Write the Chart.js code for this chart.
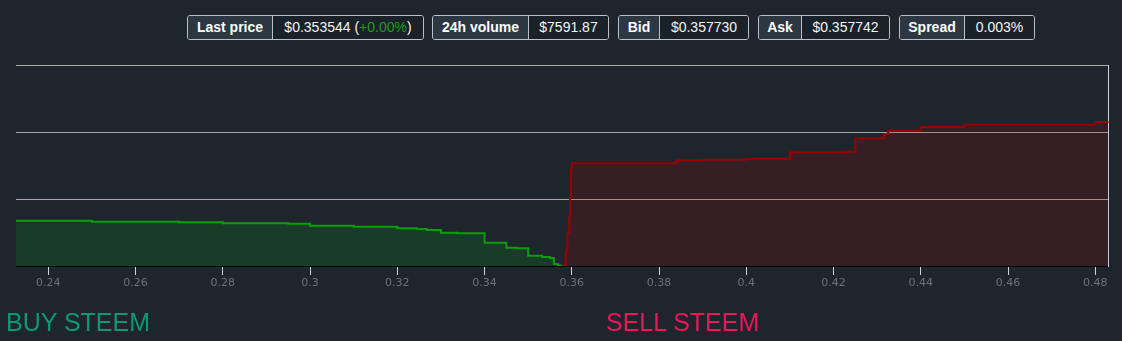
<!DOCTYPE html>
<html>
<head>
<meta charset="utf-8">
<script src="https://cdn.jsdelivr.net/npm/chart.js@4/dist/chart.umd.min.js"></script>
<style>
  html, body { margin: 0; padding: 0; background: #1e252d; width: 1122px; height: 341px; overflow: hidden; }
  #wrap { position: absolute; left: 0; top: 0; width: 1122px; height: 341px; }
  canvas { position: absolute; left: 0; top: 0; }
  .box { position: absolute; top: 15px; height: 25px; box-sizing: border-box; border: 1px solid #b9c0c8; border-radius: 3px; display: flex; overflow: hidden; font-family: "Liberation Sans", Arial, sans-serif; font-size: 14px; line-height: 23px; color: #f2f5f8; }
  .lab { background: #2c3742; font-weight: bold; text-align: center; border-right: 1px solid #b9c0c8; color: #ffffff; }
  .val { background: #1b2128; flex: 1; text-align: center; }
  .pos { color: #1f9a1f; }
  .side { position: absolute; top: 308px; font-family: "Liberation Sans", Arial, sans-serif; font-size: 25px; line-height: normal; }
</style>
</head>
<body>
<div id="wrap">
  <canvas id="c" width="1122" height="341"></canvas>
  <div class="box" style="left:187px;width:237px;"><div class="lab" style="width:84px;">Last price</div><div class="val">$0.353544 (<span class="pos">+0.00%</span>)</div></div>
  <div class="box" style="left:432px;width:177px;"><div class="lab" style="width:95px;">24h volume</div><div class="val">$7591.87</div></div>
  <div class="box" style="left:618px;width:131px;"><div class="lab" style="width:40px;">Bid</div><div class="val">$0.357730</div></div>
  <div class="box" style="left:758px;width:132px;"><div class="lab" style="width:42px;">Ask</div><div class="val">$0.357742</div></div>
  <div class="box" style="left:899px;width:136px;"><div class="lab" style="width:64px;">Spread</div><div class="val">0.003%</div></div>
  <div class="side" style="left:6px;color:#0e9872;">BUY STEEM</div>
  <div class="side" style="left:606px;color:#ee1558;">SELL STEEM</div>
</div>
<script>
// Bid side: price where each level starts (ascending), cumulative depth of that level
const bidPrices = [0.2326, 0.25, 0.27, 0.28, 0.295, 0.30, 0.31, 0.32, 0.3245, 0.3268, 0.33, 0.3337, 0.34, 0.345, 0.3474, 0.35, 0.3532, 0.355, 0.3559, 0.3568, 0.35773];
const bidDepth  = [6761, 6612, 6522, 6373, 6300, 6015, 5866, 5627, 5522, 5373, 4970, 4881, 3478, 2731, 2642, 1537, 1343, 1194, 299, 75, 75];

// Ask side: price where each level starts (ascending), cumulative depth of that level
const askPrices = [0.357742, 0.3586, 0.3590, 0.3594, 0.3596, 0.3598, 0.3600, 0.384, 0.390, 0.400, 0.410, 0.4226, 0.425, 0.4316, 0.4325, 0.440, 0.450, 0.480, 0.48307];
const askDepth  = [45, 2284, 4881, 7358, 10343, 14582, 15328, 15776, 15866, 16015, 16970, 17060, 19060, 19701, 20194, 20746, 21090, 21493, 21493];

// X axis
const xMin = 0.2326, xMax = 0.48307;
const tickValues = [0.24, 0.26, 0.28, 0.3, 0.32, 0.34, 0.36, 0.38, 0.4, 0.42, 0.44, 0.46, 0.48];
// Y axis (hidden labels, grid only)
const yMax = 30000, yStep = 10000;

const bidData = bidPrices.map((p, i) => ({ x: p, y: bidDepth[i] }));
const askData = askPrices.map((p, i) => ({ x: p, y: askDepth[i] }));

new Chart(document.getElementById('c'), {
  type: 'line',
  data: {
    datasets: [
      { data: bidData, stepped: 'before', borderColor: '#0a9f0a', borderWidth: 2, backgroundColor: 'rgba(0,180,20,0.17)', fill: 'origin', pointRadius: 0 },
      { data: askData, stepped: 'before', borderColor: '#990000', borderWidth: 2, backgroundColor: 'rgba(175,0,0,0.17)', fill: 'origin', pointRadius: 0 }
    ]
  },
  options: {
    responsive: false,
    animation: false,
    devicePixelRatio: 1,
    layout: { padding: { top: 65, left: 16, right: 13.3, bottom: 45 } },
    plugins: { legend: { display: false }, tooltip: { enabled: false } },
    scales: {
      x: {
        type: 'linear',
        min: xMin, max: xMax,
        afterBuildTicks: (s) => { s.ticks = tickValues.map(v => ({ value: v })); },
        afterFit: (s) => { s.height = 30; },
        grid: { drawOnChartArea: false, drawTicks: true, tickLength: 9, tickColor: '#c9d5e2', tickWidth: 1 },
        border: { display: true, color: '#000000', width: 1 },
        ticks: { color: '#6d7278', font: { family: 'DejaVu Sans', size: 11 }, padding: 2, maxRotation: 0, callback: (v) => String(v) }
      },
      y: {
        position: 'right',
        min: 0, max: yMax,
        ticks: { display: false, stepSize: yStep },
        grid: { drawTicks: false, color: (c) => c.tick && c.tick.value === 0 ? 'rgba(0,0,0,0)' : '#a9a9a9', lineWidth: 1 },
        border: { display: true, color: '#c9d5e2', width: 1 }
      }
    }
  }
});
</script>
</body>
</html>
